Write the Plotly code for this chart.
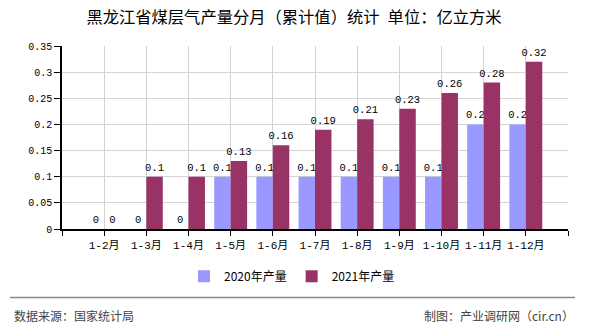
import plotly.graph_objects as go

categories = ["1-2月", "1-3月", "1-4月", "1-5月", "1-6月", "1-7月", "1-8月", "1-9月", "1-10月", "1-11月", "1-12月"]
values_2020 = [0, 0, 0, 0.1, 0.1, 0.1, 0.1, 0.1, 0.1, 0.2, 0.2]
values_2021 = [0, 0.1, 0.1, 0.13, 0.16, 0.19, 0.21, 0.23, 0.26, 0.28, 0.32]
series_names = ["2020年产量", "2021年产量"]
y_ticks = [0, 0.05, 0.1, 0.15, 0.2, 0.25, 0.3, 0.35]

W, H = 590, 330
L, R, T, B = 62, 568, 46, 229.5  # plot area in px


def px_x(x):
    return (x - L) / (R - L)


def px_y(y):
    return (B - y) / (B - T)


xpos = list(range(1, len(categories) + 1))
num_fmt = lambda v: f"{v:g}"
mono = "Liberation Mono, DejaVu Sans Mono, Noto Sans CJK SC, monospace"
cjk = "Noto Sans CJK SC, Liberation Sans, sans-serif"

fig = go.Figure()
fig.add_trace(go.Bar(
    x=xpos, y=values_2020, name=series_names[0],
    marker=dict(color="#9999FF", line=dict(width=0)),
    text=[num_fmt(v) for v in values_2020], textposition="outside",
    textfont=dict(family=mono, size=10.5, color="#000000"),
    constraintext="none", cliponaxis=False,
))
fig.add_trace(go.Bar(
    x=xpos, y=values_2021, name=series_names[1],
    marker=dict(color="#993366", line=dict(width=0)),
    text=[num_fmt(v) for v in values_2021], textposition="outside",
    textfont=dict(family=mono, size=10.5, color="#000000"),
    constraintext="none", cliponaxis=False,
))

fig.update_layout(
    width=W, height=H,
    margin=dict(l=L, r=W - R, t=T, b=H - B, pad=0),
    paper_bgcolor="white", plot_bgcolor="white",
    barmode="group", bargap=0.22, bargroupgap=0,
    showlegend=True,
    legend=dict(orientation="h", x=px_x(292), y=px_y(277), xanchor="center", yanchor="middle",
                font=dict(family=cjk, size=12, color="#000000"), bgcolor="rgba(0,0,0,0)",
                itemwidth=30, traceorder="normal"),
    title=dict(text="黑龙江省煤层气产量分月（累计值）统计\u2002单位：亿立方米",
               x=294 / W, xref="container", xanchor="center",
               y=1 - 17.5 / H, yanchor="middle",
               font=dict(family=cjk, size=16.3, color="#000000")),
)

fig.update_xaxes(
    range=[0, len(categories) + 1],
    tickmode="array",
    tickvals=[0] + xpos + [len(categories) + 1],
    ticktext=[""] + categories + [""],
    showgrid=True, gridcolor="#d4d4d4", gridwidth=1,
    showline=True, linecolor="#000000", linewidth=1.5,
    ticks="outside", ticklen=5, tickcolor="#000000", tickwidth=1,
    tickfont=dict(family=mono, size=11, color="#000000"),
    zeroline=False, fixedrange=True,
)
fig.update_yaxes(
    range=[0, 0.35],
    tickmode="array", tickvals=y_ticks, ticktext=[num_fmt(v) for v in y_ticks],
    showgrid=True, gridcolor="#d4d4d4", gridwidth=1,
    showline=True, linecolor="#000000", linewidth=1.5,
    ticks="outside", ticklen=6, tickcolor="#000000", tickwidth=1,
    tickfont=dict(family=mono, size=10, color="#000000"),
    zeroline=False, fixedrange=True,
)

# footer separator and source texts
fig.add_shape(type="line", xref="paper", yref="paper",
              x0=px_x(10), x1=px_x(575), y0=px_y(298.3), y1=px_y(298.3),
              line=dict(color="#888888", width=1.5))
fig.add_annotation(text="数据来源：国家统计局", xref="paper", yref="paper",
                   x=px_x(12), y=px_y(316.5), xanchor="left", yanchor="middle",
                   showarrow=False, font=dict(family=cjk, size=12, color="#444444"))
fig.add_annotation(text="制图：产业调研网（cir.cn）", xref="paper", yref="paper",
                   x=px_x(576), y=px_y(316.5), xanchor="right", yanchor="middle",
                   showarrow=False, font=dict(family=cjk, size=12, color="#444444"))

fig.write_html("out.html", config={"displayModeBar": False})
